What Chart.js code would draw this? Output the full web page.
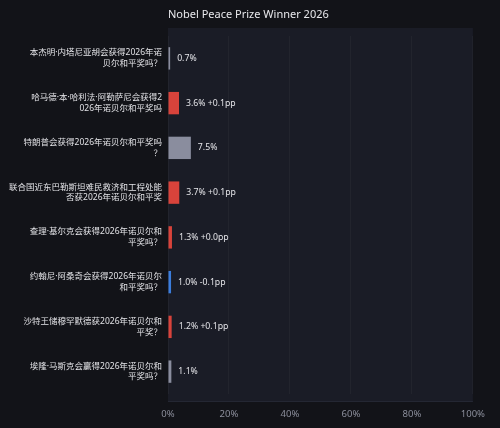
<!DOCTYPE html>
<html>
<head>
<meta charset="utf-8">
<script src="https://cdn.jsdelivr.net/npm/chart.js@4"></script>
<style>
  html, body { margin: 0; padding: 0; background: #121318; }
  #wrap { width: 500px; height: 428px; }
</style>
</head>
<body>
<div id="wrap"><canvas id="grafico" width="500" height="428"></canvas></div>
<script>
const titulo = 'Nobel Peace Prize Winner 2026';

const categorias = [
  ['本杰明·内塔尼亚胡会获得2026年诺', '贝尔和平奖吗？'],
  ['哈马德·本·哈利法·阿勒萨尼会获得2', '026年诺贝尔和平奖吗'],
  ['特朗普会获得2026年诺贝尔和平奖吗', '？'],
  ['联合国近东巴勒斯坦难民救济和工程处能', '否获2026年诺贝尔和平奖'],
  ['查理·基尔克会获得2026年诺贝尔和', '平奖吗？'],
  ['约翰尼·阿桑奇会获得2026年诺贝尔', '和平奖吗？'],
  ['沙特王储穆罕默德获2026年诺贝尔和', '平奖？'],
  ['埃隆·马斯克会赢得2026年诺贝尔和', '平奖吗？']
];

const probabilidades = [0.7, 3.6, 7.5, 3.7, 1.3, 1.0, 1.2, 1.1];
const variacoes = ['', '+0.1pp', '', '+0.1pp', '+0.0pp', '-0.1pp', '+0.1pp', ''];

const ticksX = [0, 20, 40, 60, 80, 100];

// cor da barra conforme a variação
const cores = variacoes.map(v => {
  if (v == '') return '#8a8d9e';
  if (v[0] == '-') return '#3b7ddd';
  return '#d8433b';
});

const fonte = "'Noto Sans', 'Noto Sans CJK SC', sans-serif";

const fundoPlot = {
  id: 'fundoPlot',
  beforeDraw(chart) {
    const ctx = chart.ctx;
    const a = chart.chartArea;
    ctx.save();
    ctx.fillStyle = '#1a1c26';
    ctx.fillRect(a.left, a.top - 8, a.right - a.left, a.bottom - a.top + 16);
    ctx.fillStyle = '#242733';
    ctx.fillRect(a.left, a.bottom + 7, a.right - a.left, 1);
    // titulo alinhado com a área do gráfico
    ctx.fillStyle = '#e8e8ec';
    ctx.font = '11px ' + fonte;
    ctx.textBaseline = 'middle';
    ctx.textAlign = 'left';
    ctx.fillText(titulo, a.left, 15);
    ctx.restore();
  }
};

const rotulos = {
  id: 'rotulos',
  afterDatasetsDraw(chart) {
    const ctx = chart.ctx;
    const meta = chart.getDatasetMeta(0);
    ctx.save();
    ctx.fillStyle = '#e4e4e8';
    ctx.font = '8.7px ' + fonte;
    ctx.textBaseline = 'middle';
    ctx.textAlign = 'left';
    meta.data.forEach((barra, i) => {
      let txt = probabilidades[i].toFixed(1) + '%';
      if (variacoes[i] != '') txt += ' ' + variacoes[i];
      ctx.fillText(txt, barra.x + 7, barra.y);
    });
    ctx.restore();
  }
};

const config = {
  type: 'bar',
  data: {
    labels: categorias,
    datasets: [{
      data: probabilidades,
      backgroundColor: cores,
      borderWidth: 0,
      barPercentage: 0.5,
      categoryPercentage: 1
    }]
  },
  options: {
    indexAxis: 'y',
    responsive: false,
    animation: false,
    // o rótulo "100%" já soma ~12px à direita
    layout: { padding: { top: 36, right: 9, left: 0, bottom: 0 } },
    plugins: {
      legend: { display: false },
      title: { display: false },
      tooltip: { enabled: false }
    },
    scales: {
      x: {
        min: 0,
        max: 100,
        afterBuildTicks(axis) {
          axis.ticks = ticksX.map(v => ({ value: v }));
        },
        afterFit(axis) { axis.height = 34; },
        border: { display: false },
        grid: { color: 'rgba(255,255,255,0.035)', drawTicks: false },
        ticks: {
          padding: 15,
          color: '#8b8e9b',
          font: { family: fonte, size: 9.5 },
          callback: v => v + '%'
        }
      },
      y: {
        afterFit(axis) { axis.width = 168; },
        border: { display: false },
        grid: { display: false, drawTicks: false },
        ticks: {
          padding: 6,
          color: '#e2e2e6',
          font: { family: fonte, size: 8.5, lineHeight: 1.25 }
        }
      }
    }
  },
  plugins: [fundoPlot, rotulos]
};

window.grafico = new Chart(document.getElementById('grafico'), config);
</script>
</body>
</html>
